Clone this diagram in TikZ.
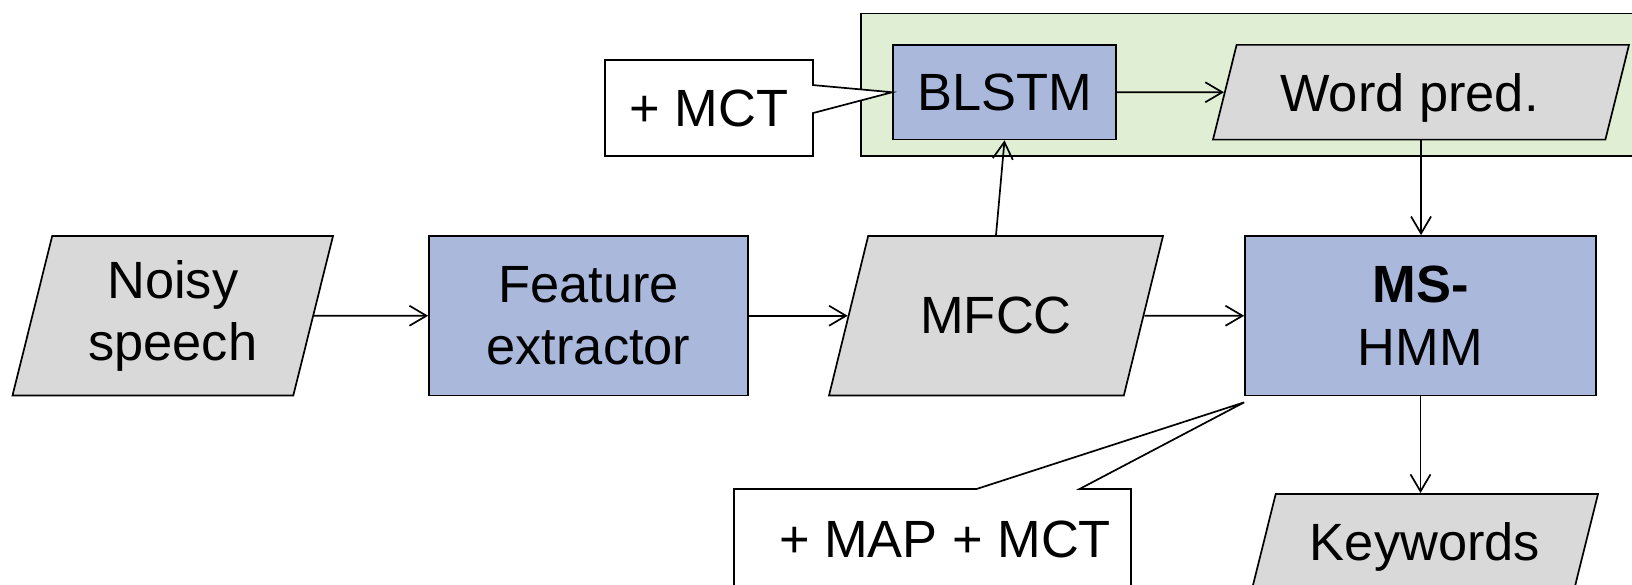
\documentclass[tikz,border=0pt]{standalone}
\usepackage{fontspec}
\setmainfont{Liberation Sans}
\usepackage{xcolor}
\usepackage{tikz}
\usetikzlibrary{positioning,arrows.meta,shapes.geometric,shapes.callouts}
\definecolor{datagray}{HTML}{D9D9D9}
\definecolor{procblue}{HTML}{A9B8DB}
\definecolor{netgreen}{HTML}{E0EFD3}

\tikzset{
  base/.style={draw,line width=0.85pt,inner sep=0pt,align=center,font=\fontsize{26.2}{31.2}\selectfont},
  proc/.style={base,rectangle,fill=procblue,minimum width=#1,minimum height=79.75pt},
  data/.style={base,trapezium,trapezium left angle=76,trapezium right angle=104,trapezium stretches body,fill=datagray,minimum width=#1,minimum height=79.75pt},
  note/.style={base,rectangle callout,fill=white,minimum width=#1},
  flow/.style={-{Straight Barb[length=8.5pt,width=10pt]},line width=0.85pt},
}

\begin{document}
\begin{tikzpicture}[x=0.5pt,y=-0.5pt]
\useasboundingbox (0,0) rectangle (1632,584);
\clip (0,0) rectangle (1632,584);
% recognition branch
\fill[netgreen,draw=black,line width=0.85pt] (861,13.5) rectangle (1650,156);
\node[proc=111.5pt,minimum height=47.25pt] (blstm) at (1004.5,92.25) {BLSTM};
\node[data=208pt,minimum height=47.25pt,text depth=0pt,inner ysep=14.2pt] (word) at (1421,92.25) {Word pred.\hspace{11.5pt}};
% main chain
\node[data=160.25pt,inner ysep=12pt] (noisy) at (172.75,315.75) {Noisy\\speech};
\node[proc=159.5pt] (feat) at (588.5,315.75) {Feature\\extractor};
\node[data=167pt,inner ysep=30pt] (mfcc) at (996,315.75) {MFCC};
\node[proc=175.5pt] (hmm) at (1420.5,315.75) {\textbf{MS-}\\HMM};
\node[data=173pt,minimum height=47.5pt,text depth=0pt,inner ysep=14.3pt] (kw) at (1425,541.5) {Keywords};
% adaptation notes
\node[note=104pt,minimum height=48pt,callout absolute pointer={(blstm.west)},callout pointer width=14pt] (mctnote) at (709,108) {+ MCT};
\node[note=198.5pt,minimum height=50pt,callout absolute pointer={([yshift=-3pt]hmm.south west)},callout pointer width=51.5pt] (mapnote) at (932.5,539) {\hspace{12.5pt}+ MAP + MCT};
% connectors
\draw[flow] (noisy) -- (feat);
\draw[flow] (feat) -- (mfcc);
\draw[flow] (mfcc) -- (hmm);
\draw[flow] (mfcc.north) -- (blstm.south);
\draw[flow] (blstm) -- (word);
\draw[flow] (word.south) -- (word.south |- hmm.north);
\draw[flow] (hmm.south) -- (hmm.south |- kw.north);
\end{tikzpicture}
\end{document}
